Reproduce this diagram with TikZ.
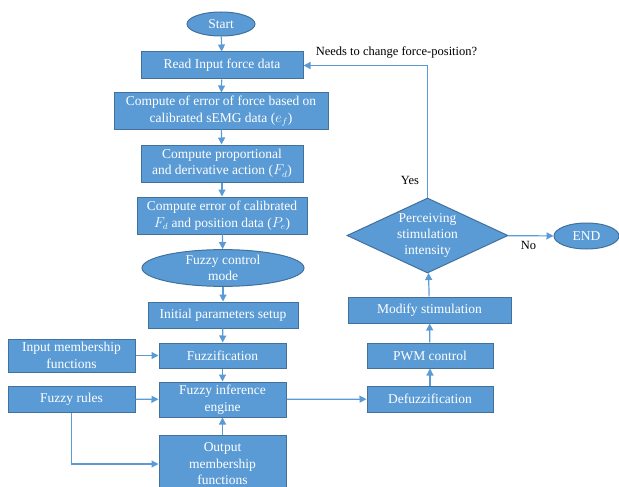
\documentclass[tikz,border=0pt]{standalone}
\usepackage{fontspec}
\setmainfont{Liberation Serif}
\usepackage{tikz}
\usepackage{xcolor}
\usetikzlibrary{shapes.geometric,arrows.meta}
\definecolor{boxfill}{HTML}{5B9BD5}
\definecolor{boxline}{HTML}{41719C}
\definecolor{flowline}{HTML}{5B9BD5}

\begin{document}
\begin{tikzpicture}[x=1pt, y=-1pt, line width=1pt,
    every node/.style={font=\fontsize{13.5}{16.5}\selectfont},
    block/.style={rectangle, draw=boxline, fill=boxfill, text=white,
      align=center, inner sep=0pt},
    term/.style={ellipse, draw=boxline, fill=boxfill, text=white,
      align=center, inner sep=0pt},
    note/.style={font=\fontsize{12.5}{15}\selectfont},
    flow/.style={draw=flowline, line width=1.2pt,
      -{Triangle[length=7pt,width=7pt]}}]
  \useasboundingbox (0,0) rectangle (619,487);
  % main column
  \node[term, minimum width=68, minimum height=24] (start) at (221,24) {Start};
  \node[block, minimum width=162, minimum height=27] (read) at (222,65.5) {Read Input force data};
  \node[block, minimum width=214, minimum height=36] (err) at (221,111) {Compute of error of force based on\\calibrated sEMG data ($e_f$)};
  \node[block, minimum width=162, minimum height=37] (pd) at (222,163.5) {Compute proportional\\and derivative action ($F_d$)};
  \node[block, minimum width=170, minimum height=37] (calib) at (222,215.5) {Compute error of calibrated\\$F_d$ and position data ($P_e$)};
  \node[term, minimum width=162, minimum height=36] (mode) at (223,268) {Fuzzy control\\mode};
  \node[block, minimum width=150, minimum height=26] (init) at (223,315) {Initial parameters setup};
  \node[block, minimum width=127, minimum height=25] (fuzzif) at (222.5,355.5) {Fuzzification};
  \node[block, minimum width=127, minimum height=35] (engine) at (222.5,399.5) {Fuzzy inference\\engine};
  \node[block, minimum width=127, minimum height=58] (outmf) at (222.5,464) {Output\\membership\\functions};
  % inputs on the left
  \node[block, minimum width=127, minimum height=33] (inmf) at (71.5,355.5) {Input membership\\functions};
  \node[block, minimum width=127, minimum height=26] (rules) at (71.5,399) {Fuzzy rules};
  % right column
  \node[block, minimum width=126, minimum height=26] (defuzz) at (430,399) {Defuzzification};
  \node[block, minimum width=126, minimum height=25] (pwm) at (430,355.5) {PWM control};
  \node[block, minimum width=163, minimum height=26] (modify) at (429.5,310) {Modify stimulation};
  \node[diamond, draw=boxline, fill=boxfill, text=white, align=center,
    inner sep=0pt, aspect=2.15, minimum width=161, minimum height=75,
    font=\fontsize{13.5}{16}\selectfont] (percv) at (427.5,235.5) {Perceiving\\stimulation\\intensity};
  \node[term, minimum width=65, minimum height=26] (stop) at (586.5,236) {END};
  % arrows
  \draw[flow] (start) -- (read);
  \draw[flow] (read) -- (err);
  \draw[flow] (err) -- (pd);
  \draw[flow] (pd) -- (calib);
  \draw[flow] (calib) -- (mode);
  \draw[flow] (mode) -- (init);
  \draw[flow] (init) -- (fuzzif);
  \draw[flow] (fuzzif) -- (engine);
  \draw[flow] (inmf) -- (fuzzif);
  \draw[flow] (rules) -- (engine);
  \draw[flow] (rules.south) |- (outmf.west);
  \draw[flow] (outmf) -- (engine);
  \draw[flow] (engine) -- (defuzz);
  \draw[flow] (defuzz) -- (pwm);
  \draw[flow] (pwm) -- (modify);
  \draw[flow] (modify) -- (percv);
  \draw[flow] (percv) -- (stop) node[note, pos=0.45, below=2pt] (no) {No};
  \draw[flow] (percv.north) |- (read.east);
  % labels
  \node[note] (yes) at (410,180) {Yes};
  \node[note, anchor=west] (ask) at (312,52) {Needs to change force-position?};
\end{tikzpicture}
\end{document}
